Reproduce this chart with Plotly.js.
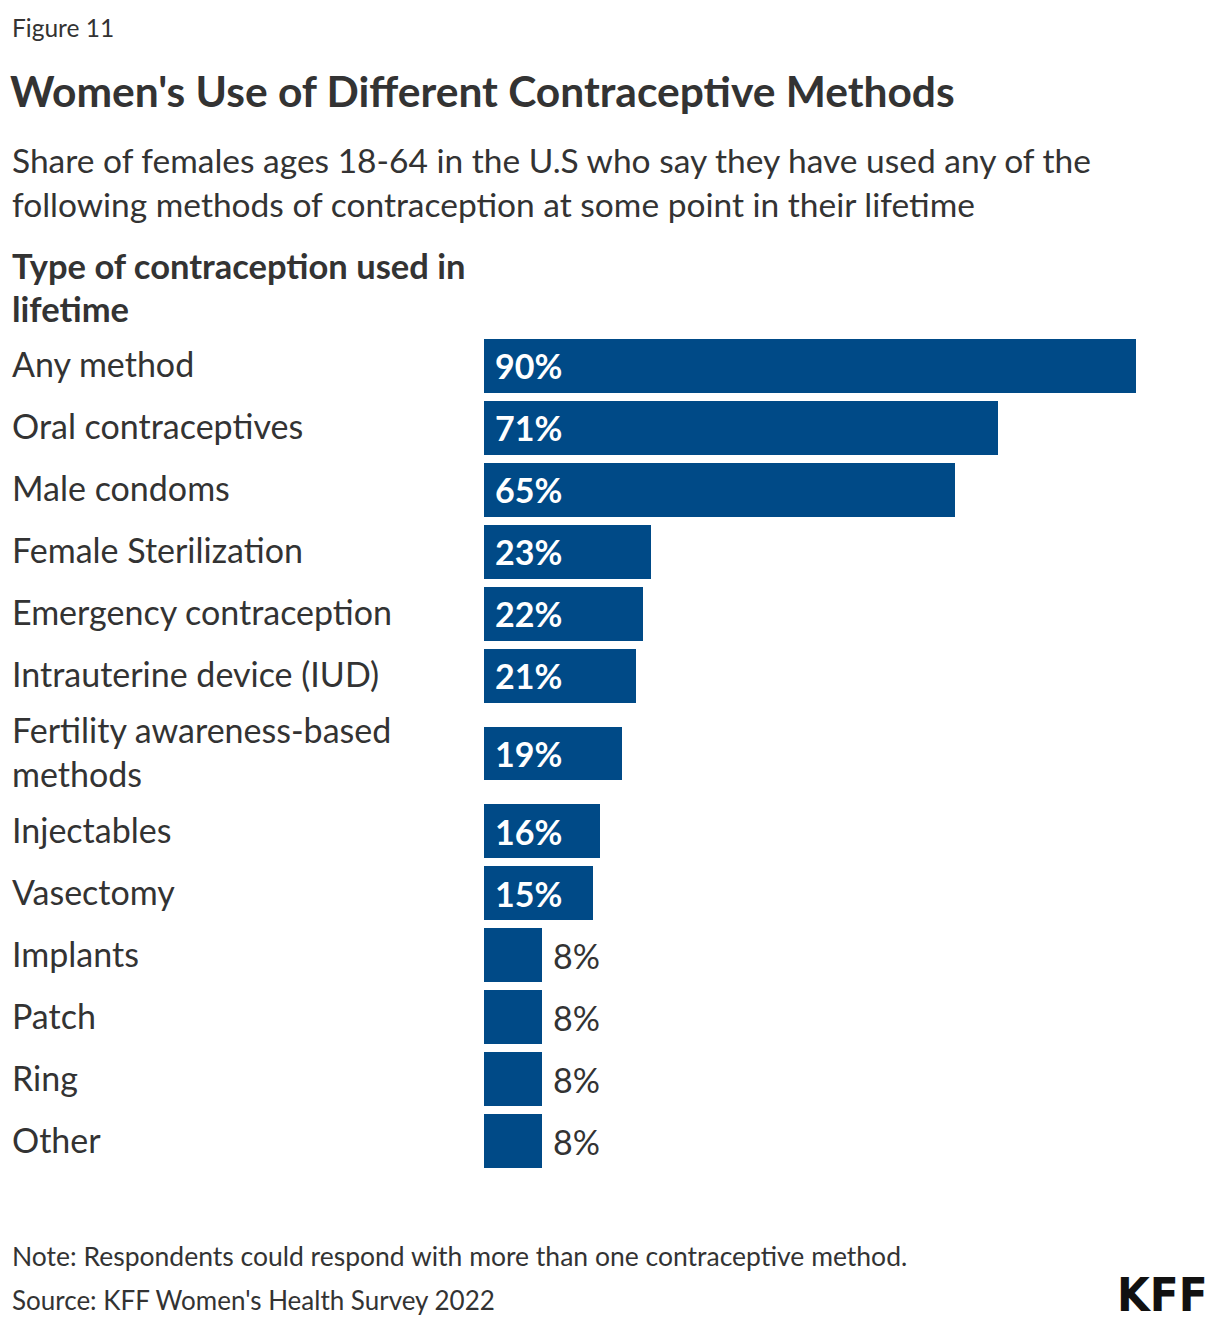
<!DOCTYPE html>
<html>
<head>
<meta charset="utf-8">
<script src="https://cdn.plot.ly/plotly-3.0.1.min.js"></script>
<style>
  html, body { margin: 0; padding: 0; background: #fff; }
  #chart { width: 1220px; height: 1328px; }
</style>
</head>
<body>
<div id="chart"></div>
<script>
// ---- Data ----
const categories = [
  "Any method",
  "Oral contraceptives",
  "Male condoms",
  "Female Sterilization",
  "Emergency contraception",
  "Intrauterine device (IUD)",
  "Fertility awareness-based<br>methods",
  "Injectables",
  "Vasectomy",
  "Implants",
  "Patch",
  "Ring",
  "Other"
];
const values = [90, 71, 65, 23, 22, 21, 19, 16, 15, 8, 8, 8, 8];
const valueLabels = ["90%", "71%", "65%", "23%", "22%", "21%", "19%", "16%", "15%", "8%", "8%", "8%", "8%"];

const figureLabel = "Figure 11";
const titleText = "Women's Use of Different Contraceptive Methods";
const subtitleLines = [
  "Share of females ages 18-64 in the U.S who say they have used any of the",
  "following methods of contraception at some point in their lifetime"
];
const headerLines = ["Type of contraception used in", "lifetime"];
const noteText = "Note: Respondents could respond with more than one contraceptive method.";
const sourceText = "Source: KFF Women's Health Survey 2022";

// ---- Style / layout ----
const FONT = "Lato, 'Open Sans', sans-serif";
const TEXT = "#333333";
const BAR = "#004A87";
const W = 1220, H = 1328;
const ML = 484, MR = 84;
const rowPx = 62;
const wrapExtra = 0.258; // extra gap next to two-line labels (in row units)
const LX = 10; // left text edge in px

// row positions from label line counts
const nLines = categories.map(c => c.split("<br>").length);
const positions = [];
let p = 0;
categories.forEach((c, i) => {
  if (i > 0) {
    p += 1;
    if (nLines[i] > 1 || nLines[i - 1] > 1) p += wrapExtra;
  }
  positions.push(p);
});
const yMin = -0.5, yMax = positions[positions.length - 1] + 0.5;
const plotH = (yMax - yMin) * rowPx;
const MT = 334.5;
const MB = H - MT - plotH;

const xMax = 90;
const plotW = W - ML - MR;
const pxToPaperX = px => (px - ML) / plotW;
const pxToPaperY = py => 1 - (py - MT) / plotH;

const trace = {
  type: "bar",
  orientation: "h",
  x: values,
  y: positions,
  width: 0.87,
  marker: { color: BAR },
  hoverinfo: "skip",
  showlegend: false
};

const annotations = [];

// category labels
categories.forEach((c, i) => {
  annotations.push({
    xref: "paper", yref: "y",
    x: pxToPaperX(LX), y: positions[i],
    xanchor: "left", yanchor: "middle", align: "left",
    yshift: 2,
    text: c, showarrow: false,
    font: { family: FONT, size: 34, color: TEXT }
  });
});

// value labels
values.forEach((v, i) => {
  const inside = v >= 12;
  annotations.push({
    xref: "x", yref: "y",
    x: inside ? 0 : v, y: positions[i],
    xanchor: "left", yanchor: "middle",
    xshift: 9, yshift: 0,
    text: inside ? "<b>" + valueLabels[i] + "</b>" : valueLabels[i],
    showarrow: false,
    font: { family: FONT, size: 34, color: inside ? "#ffffff" : TEXT }
  });
});

function textAt(text, px, py, size, opts) {
  annotations.push(Object.assign({
    xref: "paper", yref: "paper",
    x: pxToPaperX(px), y: pxToPaperY(py),
    xanchor: "left", yanchor: "middle", align: "left",
    text: text, showarrow: false,
    font: { family: FONT, size: size, color: TEXT }
  }, opts || {}));
}

textAt(figureLabel, LX, 27, 24.5);
subtitleLines.forEach((t, i) => textAt(t, LX, 159 + i * 44, 33.5));
headerLines.forEach((t, i) => textAt("<b>" + t + "</b>", LX, 265 + i * 43, 34.5));
textAt(noteText, LX, 1257, 26.5);
textAt(sourceText, LX, 1301, 26);
textAt("<b>KFF</b>", 1210, 1295, 47, {
  xanchor: "right",
  font: { family: "'Liberation Sans Narrow', 'DejaVu Sans Condensed', sans-serif", size: 47, color: "#111111" }
});

const layout = {
  width: W, height: H,
  margin: { l: ML, r: MR, t: MT, b: MB, pad: 0 },
  paper_bgcolor: "#ffffff",
  plot_bgcolor: "#ffffff",
  title: {
    text: "<b>" + titleText + "</b>",
    xref: "container", yref: "container",
    x: LX / W, y: 1 - 92 / H,
    xanchor: "left", yanchor: "middle",
    font: { family: FONT, size: 42.5, color: TEXT }
  },
  xaxis: {
    range: [0, xMax],
    visible: false,
    fixedrange: true
  },
  yaxis: {
    range: [yMax, yMin],
    visible: false,
    fixedrange: true
  },
  bargap: 0,
  annotations: annotations,
  showlegend: false
};

Plotly.newPlot("chart", [trace], layout, { displayModeBar: false, staticPlot: true });
</script>
</body>
</html>
